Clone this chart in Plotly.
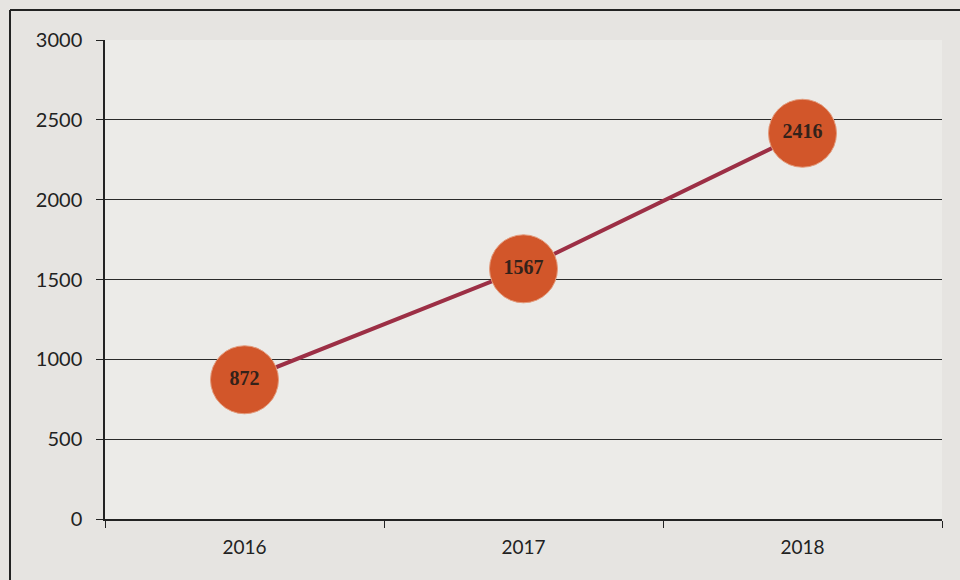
import plotly.graph_objects as go

years = ["2016", "2017", "2018"]
values = [872, 1567, 2416]
y_ticks = [0, 500, 1000, 1500, 2000, 2500, 3000]

fig = go.Figure()
fig.add_trace(go.Scatter(
    x=years, y=values,
    mode="lines+markers+text",
    line=dict(color="#9c2f45", width=4),
    marker=dict(size=68, color="#d2562a", line=dict(color="#e39b7c", width=1)),
    text=[str(v) for v in values],
    textposition="middle center",
    textfont=dict(family="Liberation Serif", size=20, color="#33221a", weight="bold"),
    showlegend=False,
    cliponaxis=False,
))

fig.update_layout(
    width=960, height=580,
    margin=dict(l=105, r=18, t=40, b=61),
    paper_bgcolor="#e6e4e1",
    plot_bgcolor="#ecebe8",
    font=dict(family="Lato, Open Sans, sans-serif", size=20, color="#222"),
)
fig.update_xaxes(
    type="category", range=[-0.5, 2.5],
    tickson="boundaries", ticks="outside", ticklen=7, tickcolor="#222",
    showline=True, linecolor="#222", linewidth=1.5,
    showgrid=False, ticklabelstandoff=10,
    tickfont=dict(size=19),
)
fig.update_yaxes(
    range=[0, 3000], tickvals=y_ticks,
    ticks="outside", ticklen=7, tickcolor="#222",
    showline=True, linecolor="#222", linewidth=1.5,
    gridcolor="#2a2a2a", gridwidth=1, zeroline=False,
    ticklabelstandoff=10,
)
# outer chart border (scanned frame), only left and top edges visible
fig.add_shape(type="line", xref="paper", yref="paper",
              x0=-0.1135, x1=-0.1135, y0=-0.2, y1=1.0626,
              line=dict(color="#222", width=2), layer="below")
fig.add_shape(type="line", xref="paper", yref="paper",
              x0=-0.1135, x1=1.1, y0=1.0626, y1=1.0626,
              line=dict(color="#222", width=2), layer="below")

fig.write_html("out.html", config={"displayModeBar": False},
               post_script="document.body.style.margin='0';document.body.style.background='#e6e4e1';")
